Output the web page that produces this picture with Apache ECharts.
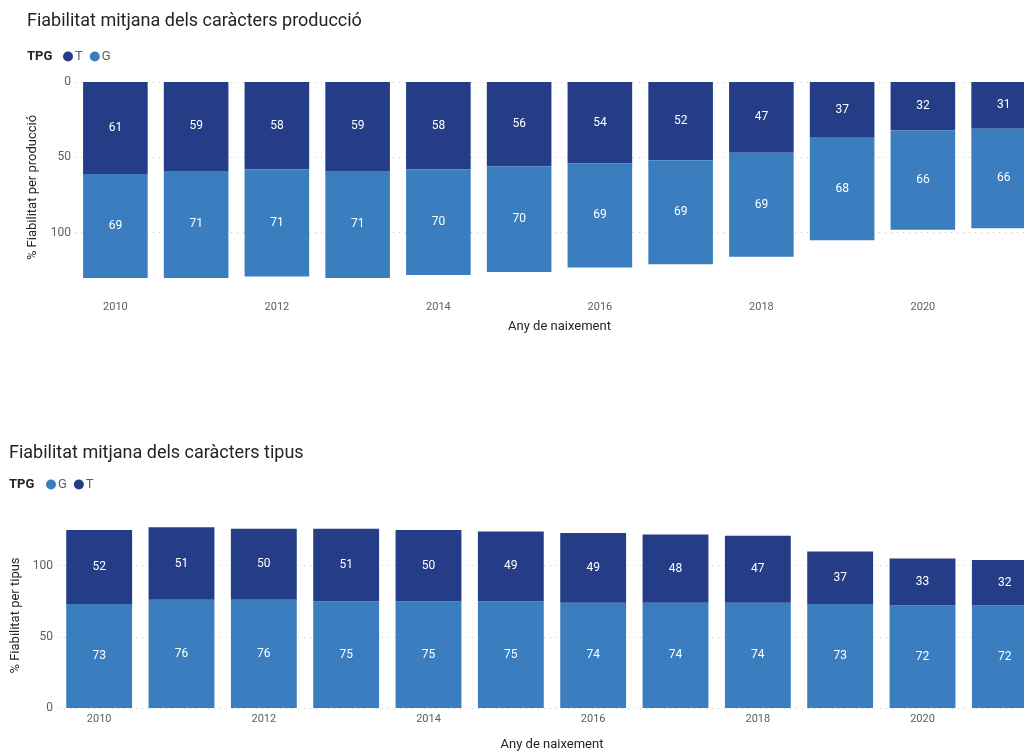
<!DOCTYPE html>
<html>
<head>
<meta charset="utf-8">
<script src="https://cdn.jsdelivr.net/npm/echarts@6/dist/echarts.min.js"></script>
<style>
html,body{margin:0;padding:0;overflow:hidden;background:#fff;width:1024px;height:752px;}
#c{width:1070px;height:752px;}
</style>
</head>
<body>
<div id="c"></div>
<script>
const years = ['2010','2011','2012','2013','2014','2015','2016','2017','2018','2019','2020','2021'];
const prodT = [61,59,58,59,58,56,54,52,47,37,32,31];
const prodG = [69,71,71,71,70,70,69,69,69,68,66,66];
const tipG = [73,76,76,75,75,75,74,74,74,73,72,72];
const tipT = [52,51,50,51,50,49,49,48,47,37,33,32];
const yTicks = [0,50,100];

const darkBlue = '#253D87';
const lightBlue = '#3A7EC0';
const FONT = 'Roboto, "Liberation Sans", sans-serif';

const chart = echarts.init(document.getElementById('c'), null, {renderer:'canvas'});

function labelCfg(){
  return {show:true, position:'inside', color:'#ffffff', fontSize:12, fontFamily:FONT};
}
function yAxisCfg(idx, max, inverse, name, margin){
  return {
    type:'value', gridIndex:idx, min:0, max:max, interval:50, inverse:inverse,
    name:name, nameLocation:'middle', nameGap: margin.nameGap,
    nameTextStyle:{color:'#252423', fontSize:13, fontFamily:FONT},
    axisLine:{show:false}, axisTick:{show:false},
    axisLabel:{color:'#605E5C', fontSize:12, fontFamily:FONT, margin:margin.label, showMaxLabel:false,
      formatter:function(v){ return yTicks.indexOf(v)>=0 ? String(v) : ''; }},
    splitLine:{show:true, showMaxLine:false, lineStyle:{color:'#C8C6C4', type:[1,5], width:1}}
  };
}
function xAxisCfg(idx, labelMargin, nameGap){
  return {
    type:'category', gridIndex:idx, data:years, position:'bottom',
    name:'Any de naixement', nameLocation:'middle', nameGap:nameGap,
    nameTextStyle:{color:'#252423', fontSize:13, fontFamily:FONT},
    axisLine:{show:false, onZero:false}, axisTick:{show:false},
    axisLabel:{interval:1, color:'#605E5C', fontSize:11, fontFamily:FONT, margin:labelMargin}
  };
}

const option = {
  animation:false,
  backgroundColor:'#ffffff',
  title:[
    {text:'Fiabilitat mitjana dels caràcters producció', left:27, top:12, padding:0,
     textStyle:{fontSize:18, fontWeight:'normal', color:'#252423', fontFamily:FONT}},
    {text:'TPG', left:27, top:50, padding:0, textStyle:{fontSize:13, fontWeight:'bold', color:'#252423', fontFamily:FONT}},
    {text:'Fiabilitat mitjana dels caràcters tipus', left:9, top:444, padding:0,
     textStyle:{fontSize:18, fontWeight:'normal', color:'#252423', fontFamily:FONT}},
    {text:'TPG', left:9, top:478, padding:0, textStyle:{fontSize:13, fontWeight:'bold', color:'#252423', fontFamily:FONT}}
  ],
  legend:[
    {data:['T','G'], left:63, top:50, padding:0, icon:'circle', itemWidth:10, itemHeight:10, itemGap:7,
     textStyle:{fontSize:13, color:'#605E5C', fontFamily:FONT, padding:[0,0,0,-3]}},
    {data:['G ','T '], left:46, top:478, padding:0, icon:'circle', itemWidth:10, itemHeight:10, itemGap:7,
     textStyle:{fontSize:13, color:'#605E5C', fontFamily:FONT, padding:[0,0,0,-3]},
     formatter:function(n){return n.trim();}}
  ],
  grid:[
    {left:75, top:82, width:969, height:211},
    {left:58, top:523, width:988, height:185}
  ],
  xAxis:[ xAxisCfg(0, 9, 27), xAxisCfg(1, 6, 30) ],
  yAxis:[
    yAxisCfg(0, 140, true, '% Fiabilitat per producció', {label:4, nameGap:36}),
    yAxisCfg(1, 130, false, '% Fiabilitat per tipus', {label:5, nameGap:35})
  ],
  series:[
    {name:'T', type:'bar', stack:'p', xAxisIndex:0, yAxisIndex:0, data:prodT, barCategoryGap:'20%',
     itemStyle:{color:darkBlue}, label:labelCfg()},
    {name:'G', type:'bar', stack:'p', xAxisIndex:0, yAxisIndex:0, data:prodG, barCategoryGap:'20%',
     itemStyle:{color:lightBlue}, label:labelCfg()},
    {name:'G ', type:'bar', stack:'t', xAxisIndex:1, yAxisIndex:1, data:tipG, barCategoryGap:'20%',
     itemStyle:{color:lightBlue}, label:labelCfg()},
    {name:'T ', type:'bar', stack:'t', xAxisIndex:1, yAxisIndex:1, data:tipT, barCategoryGap:'20%',
     itemStyle:{color:darkBlue}, label:labelCfg()}
  ]
};
chart.setOption(option);
</script>
</body>
</html>
